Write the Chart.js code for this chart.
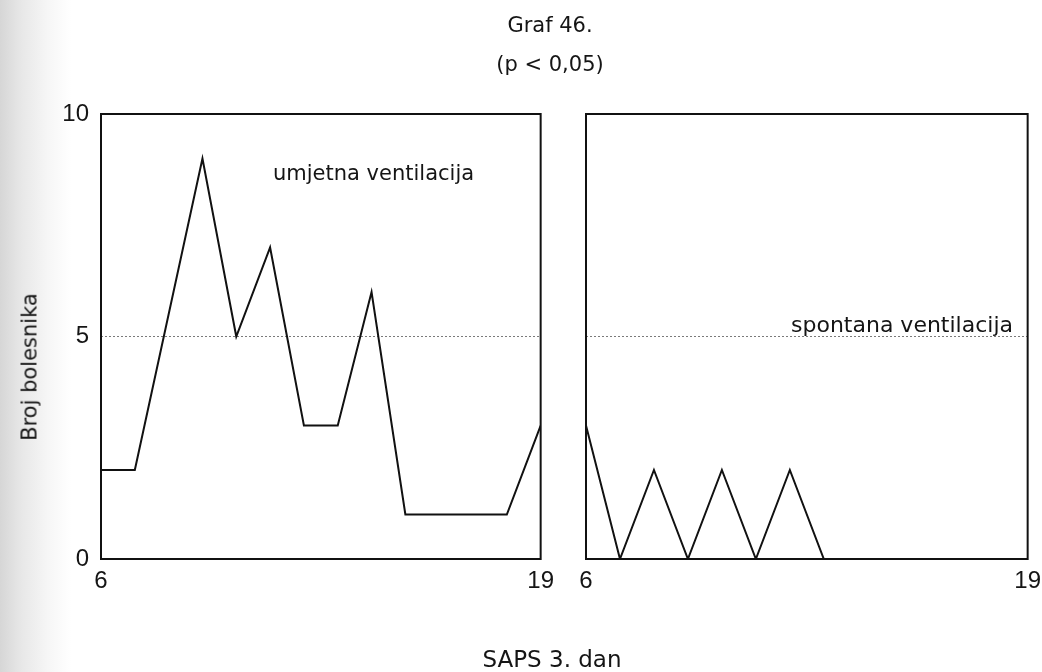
<!DOCTYPE html>
<html>
<head>
<meta charset="utf-8">
<script src="https://cdn.jsdelivr.net/npm/chart.js@4.4.1/dist/chart.umd.min.js"></script>
<style>
  html, body { margin: 0; padding: 0; background: #fff; }
  #page {
    position: relative; width: 1042px; height: 672px; overflow: hidden;
    background: linear-gradient(to right, #d6d6d6 0px, #e8e8e8 22px, #f6f6f6 48px, #fff 72px);
  }
  canvas { position: absolute; top: 0; }
  .txt {
    position: absolute; font-family: "DejaVu Sans", sans-serif; font-size: 21px;
    line-height: 1; color: #151515; white-space: nowrap;
  }
</style>
</head>
<body>
<div id="page">
  <canvas id="leftPanel" width="562" height="672" style="left:0"></canvas>
  <canvas id="rightPanel" width="489" height="672" style="left:560px"></canvas>
  <div class="txt" style="left:550px; top:15px; transform:translateX(-50%)">Graf 46.</div>
  <div class="txt" style="left:550px; top:54px; transform:translateX(-50%)">(p &lt; 0,05)</div>
  <div class="txt" style="left:273px; top:163px">umjetna ventilacija</div>
  <div class="txt" style="right:29px; top:314px; font-size:22px">spontana ventilacija</div>
  <div class="txt" style="left:552px; top:648px; transform:translateX(-50%); font-size:23px">SAPS 3. dan</div>
  <div class="txt" style="left:30px; top:367px; transform:translate(-50%,-50%) rotate(-90deg)">Broj bolesnika</div>
</div>
<script>
// SAPS score on day 3 vs. number of patients
const xTicks = [6, 19];
const yTicks = [0, 5, 10];
const refLevel = 5;

const umjetnaX = [6, 7, 9, 10, 11, 12, 13, 14, 15, 16, 17, 18, 19];
const umjetnaY = [2, 2, 9, 5, 7, 3, 3, 6, 1, 1, 1, 1, 3];

const spontanaX = [6, 7, 8, 9, 10, 11, 12, 13];
const spontanaY = [3, 0, 2, 0, 2, 0, 2, 0];

const tickFont = { family: "'Liberation Sans Narrow', 'Liberation Sans', sans-serif", size: 24 };

const frame = {
  id: "frame",
  afterDatasetsDraw(chart) {
    const { ctx, chartArea: a } = chart;
    ctx.save();
    ctx.strokeStyle = "#111";
    ctx.lineWidth = 2;
    ctx.strokeRect(a.left, a.top, a.right - a.left, a.bottom - a.top);
    ctx.restore();
  },
};

function toPoints(xs, ys) {
  return xs.map((x, i) => ({ x, y: ys[i] }));
}

function makePanel(canvasId, xs, ys, showY, padding) {
  const ctx = document.querySelector(`#${canvasId}`);
  return new Chart(ctx, {
    type: "line",
    data: {
      datasets: [
        {
          data: toPoints(xs, ys),
          borderColor: "#111",
          borderWidth: 2,
          pointRadius: 0,
          tension: 0,
        },
        {
          data: toPoints(xTicks, xTicks.map(() => refLevel)),
          borderColor: "#7a7a7a",
          borderWidth: 1,
          borderDash: [2, 2],
          pointRadius: 0,
        },
      ],
    },
    options: {
      responsive: false,
      animation: false,
      layout: { padding },
      plugins: { legend: { display: false }, tooltip: { enabled: false } },
      scales: {
        x: {
          type: "linear",
          min: xTicks[0],
          max: xTicks[xTicks.length - 1],
          afterBuildTicks: (s) => { s.ticks = xTicks.map((value) => ({ value })); },
          afterFit: (s) => { s.height = 40; },
          grid: { display: false, drawTicks: false },
          border: { display: false },
          ticks: { padding: 8, color: "#151515", font: tickFont, maxRotation: 0, autoSkip: false },
        },
        y: {
          display: showY,
          min: yTicks[0],
          max: yTicks[yTicks.length - 1],
          afterBuildTicks: (s) => { s.ticks = yTicks.map((value) => ({ value })); },
          afterFit: (s) => { s.width = showY ? 101 : 0; },
          grid: { display: false, drawTicks: false },
          border: { display: false },
          ticks: { padding: 12, color: "#151515", font: tickFont },
        },
      },
    },
    plugins: [frame],
  });
}

makePanel("leftPanel", umjetnaX, umjetnaY, true, { top: 114, right: 20, bottom: 73, left: 0 });
makePanel("rightPanel", spontanaX, spontanaY, false, { top: 114, right: 20, bottom: 73, left: 26 });
</script>
</body>
</html>
